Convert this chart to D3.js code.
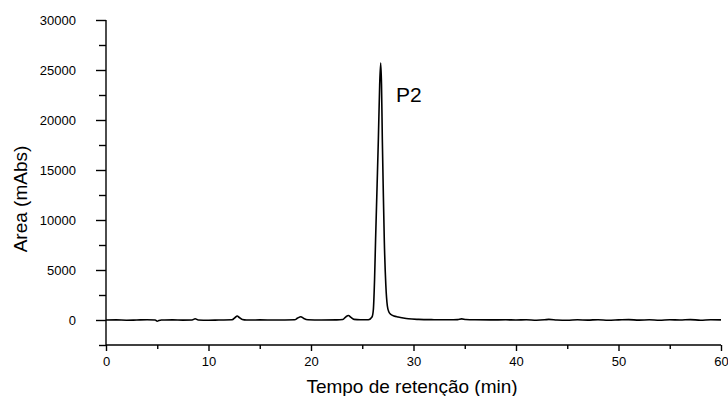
<!DOCTYPE html>
<html>
<head>
<meta charset="utf-8">
<script src="https://cdn.jsdelivr.net/npm/d3@7"></script>
<style>
    body { margin: 0; background: #fff; }
    svg { display: block; font-family: "Liberation Sans", Arial, sans-serif; }
    .axis path, .axis line { stroke: #000; stroke-width: 1.4; }
    .axis text { font-size: 13px; fill: #000; }
</style>
</head>
<body>
<script>
// chromatogram values (time in min, area in mAbs)
var times = [0, 1, 2, 3, 4, 4.8, 5.0, 5.15, 5.4, 6.5, 7.5, 8.4, 8.7, 9.0, 10, 11,
    12.3, 12.6, 12.8, 13.0, 13.3, 13.7, 15, 16.5, 18.4, 18.7, 19.0, 19.3, 19.7, 21, 22.5,
    23.1, 23.4, 23.65, 23.9, 24.2, 24.8, 25.6, 25.95, 26.08, 26.2, 26.3, 26.45, 26.57, 26.7,
    26.8, 26.88, 26.96, 27.05, 27.15, 27.3, 27.45, 27.6, 27.8, 28.1, 28.5, 29, 29.5, 30.5,
    32, 33.5, 34.3, 34.7, 35.1, 36, 37.5, 39, 40, 41, 42, 42.8, 43.2, 44, 45, 46, 47, 48,
    49, 50, 51, 52, 53, 54, 55, 56, 57, 58, 59, 60];
var areas = [0, 10, -20, 0, 20, 0, -120, -60, 0, 10, -10, 0, 120, 0, -20, 0,
    20, 250, 400, 250, 50, 0, 10, 0, 20, 200, 330, 150, 20, 0, 10,
    50, 320, 450, 260, 60, 20, 30, 300, 1000, 4000, 8000, 13500, 18000, 23500,
    25700, 23500, 18000, 13000, 8000, 3500, 1400, 800, 550, 400, 300, 200, 120, 60,
    30, 20, 40, 110, 50, 20, 10, 20, 0, 30, -20, 20, 60, 0, -30, 20, -10, 30,
    -20, 10, 40, -10, 20, -30, 30, 0, 40, -20, 30, 10];

var xTicks = [0, 10, 20, 30, 40, 50, 60],
    xMinor = [5, 15, 25, 35, 45, 55],
    yTicks = [0, 5000, 10000, 15000, 20000, 25000, 30000],
    yMinor = [-2500, 2500, 7500, 12500, 17500, 22500, 27500];

var width = 728,
    height = 396;

var svg = d3.select("body")
    .append("svg")
    .attr("width", width)
    .attr("height", height);

var x = d3.scaleLinear().domain([0, 60]).range([106, 721]);
var y = d3.scaleLinear().domain([-2500, 30000]).range([345, 20]);

// minor ticks first, then the labelled axis on top
svg.append("g")
    .attr("class", "axis")
    .attr("transform", "translate(0,345)")
    .call(d3.axisBottom(x).tickValues(xMinor).tickSize(4).tickFormat(""))
    .select(".domain").remove();

svg.append("g")
    .attr("class", "axis")
    .attr("transform", "translate(0,345)")
    .call(d3.axisBottom(x).tickValues(xTicks).tickSize(6).tickSizeOuter(0).tickPadding(6).tickFormat(d3.format("d")))
    .select(".domain").attr("d", "M" + x(0) + ",0H" + x(60));

svg.append("g")
    .attr("class", "axis")
    .attr("transform", "translate(106,0)")
    .call(d3.axisLeft(y).tickValues(yMinor).tickSize(7).tickFormat(""))
    .select(".domain").remove();

svg.append("g")
    .attr("class", "axis")
    .attr("transform", "translate(106,0)")
    .call(d3.axisLeft(y).tickValues(yTicks).tickSize(10).tickSizeOuter(0).tickPadding(20).tickFormat(d3.format("d")))
    .select(".domain").attr("d", "M0," + y(30000) + "V" + y(-2500));

var data = times.map(function (t, i) { return [t, areas[i]]; });

var line = d3.line()
    .x(function (d) { return x(d[0]); })
    .y(function (d) { return y(d[1]); })
    .curve(d3.curveMonotoneX);

svg.append("path")
    .datum(data)
    .attr("fill", "none")
    .attr("stroke", "#000")
    .attr("stroke-width", 1.6)
    .attr("d", line);

// labels
svg.append("text")
    .attr("x", 396)
    .attr("y", 102)
    .attr("font-size", 21)
    .text("P2");

svg.append("text")
    .attr("x", 412)
    .attr("y", 393)
    .attr("text-anchor", "middle")
    .attr("font-size", 19)
    .text("Tempo de retenção (min)");

svg.append("text")
    .attr("transform", "translate(27,199) rotate(-90)")
    .attr("text-anchor", "middle")
    .attr("font-size", 19)
    .text("Area (mAbs)");
</script>
</body>
</html>
